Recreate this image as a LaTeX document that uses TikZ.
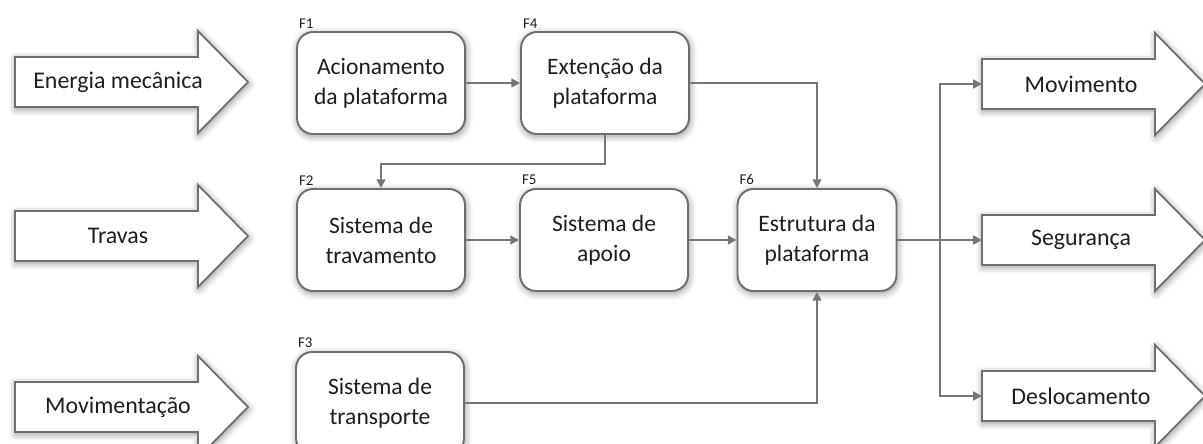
\documentclass[tikz,border=0pt]{standalone}
\usepackage{fontspec}
\setmainfont{Carlito}
\usetikzlibrary{arrows.meta,shadows.blur}

\definecolor{linegray}{RGB}{118,118,118}
\definecolor{boxgray}{RGB}{110,110,110}
\definecolor{txtgray}{RGB}{30,30,30}

\tikzset{
  funcbox/.style={draw=boxgray, line width=1.1pt, fill=white, rounded corners=0.32cm,
    minimum width=3.36cm, minimum height=2.04cm, align=center, text=txtgray,
    font=\fontsize{13.4}{17}\selectfont,
    blur shadow={shadow xshift=0.5pt, shadow yshift=-1.2pt, shadow blur radius=4pt, shadow opacity=45}},
  flabel/.style={font=\fontsize{8.5}{10}\selectfont, text=txtgray, inner sep=1.5pt},
  bigarrow/.style={draw=boxgray, line width=1pt, fill=white,
    blur shadow={shadow xshift=0.5pt, shadow yshift=-1.2pt, shadow blur radius=4pt, shadow opacity=45}},
  arrowtext/.style={font=\fontsize{13.6}{17}\selectfont, text=txtgray},
  conn/.style={draw=linegray, line width=1.3pt, -{Triangle[length=5pt,width=5pt]}}
}

\begin{document}
\begin{tikzpicture}[x=0.02cm, y=-0.02cm]
\useasboundingbox (0,0) rectangle (1203,443);

\foreach \name/\y/\txt in {em/82/Energia mecânica, tr/236/Travas, mo/407/Movimentação}
{
\draw[bigarrow] (15,\y-25) -- (198,\y-25) -- (198,\y-51) -- (248,\y) -- (198,\y+51) -- (198,\y+25) -- (15,\y+25) -- cycle;
\node[arrowtext] (\name) at (118,\y) {\txt};
}

\foreach \name/\y/\txt in {mv/84/Movimento, sg/240/Segurança, dl/396/Deslocamento}
{
\draw[bigarrow] (982,\y-25) -- (1155,\y-25) -- (1155,\y-51) -- (1205,\y) -- (1155,\y+51) -- (1155,\y+25) -- (982,\y+25) -- cycle;
\node[arrowtext] (\name) at (1081,\y) {\txt};
\coordinate (\name-in) at (982,\y);
}

\node[funcbox, label={[flabel, anchor=south west]north west:F1}] (f1) at (381,83) {Acionamento\\da plataforma};
\node[funcbox, label={[flabel, anchor=south west]north west:F2}] (f2) at (381,240) {Sistema de\\travamento};
\node[funcbox, label={[flabel, anchor=south west]north west:F3}] (f3) at (380,403) {Sistema de\\transporte};
\node[funcbox, label={[flabel, anchor=south west]north west:F4}] (f4) at (605,83) {Extenção da\\plataforma};
\node[funcbox, label={[flabel, anchor=south west]north west:F5}] (f5) at (604,240) {Sistema de\\apoio};
\node[funcbox, minimum width=3.18cm, label={[flabel, anchor=south west]north west:F6}] (f6) at (817,240) {Estrutura da\\plataforma};

\coordinate (split) at (940,240);

\draw[conn] (f1.east) -- (f4.west);
\draw[conn] (f4.south) -- ++(0,29) -| (f2.north);
\draw[conn] (f2.east) -- (f5.west);
\draw[conn] (f5.east) -- (f6.west);
\draw[conn] (f4.east) -| (f6.north);
\draw[conn] (f3.east) -| (f6.south);
\draw[conn] (f6.east) -- (sg-in);
\draw[conn] (split) |- (mv-in);
\draw[conn] (split) |- (dl-in);

\end{tikzpicture}
\end{document}
